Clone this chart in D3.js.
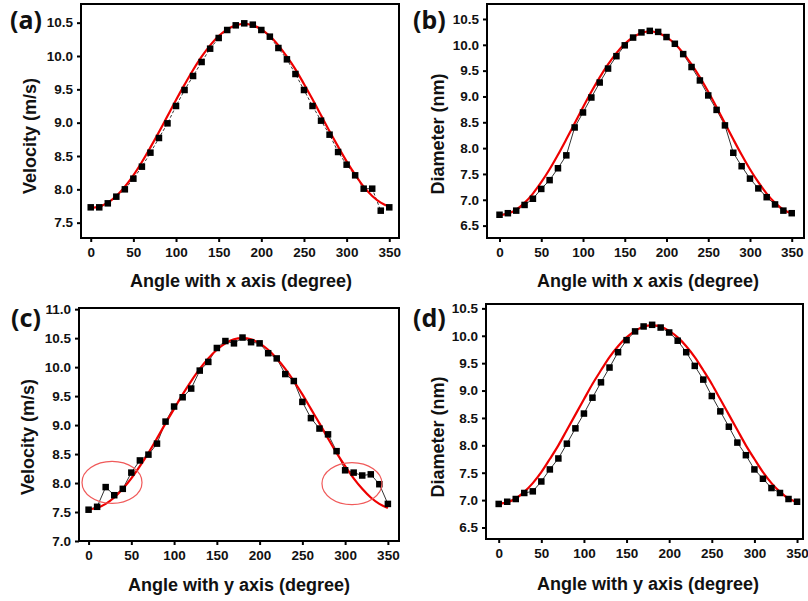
<!DOCTYPE html>
<html>
<head>
<meta charset="utf-8">
<script src="https://cdn.jsdelivr.net/npm/d3@7"></script>
<style>
  html, body { margin: 0; padding: 0; background: #fff; }
  svg { display: block; }
  text { font-family: "Liberation Sans", Arial, sans-serif; font-weight: bold; fill: #111; }
</style>
</head>
<body>
<svg id="chart" width="808" height="601"></svg>
<script>
// ---------------- DATA ----------------
const angles = [0,10,20,30,40,50,60,70,80,90,100,110,120,130,140,150,160,170,180,190,200,210,220,230,240,250,260,270,280,290,300,310,320,330,340,350];

const velocityX = [7.73,7.73,7.79,7.89,8.00,8.16,8.34,8.55,8.77,8.99,9.25,9.49,9.70,9.91,10.11,10.27,10.39,10.46,10.49,10.47,10.39,10.29,10.12,9.95,9.73,9.49,9.25,9.03,8.82,8.56,8.37,8.21,8.01,8.01,7.68,7.73];
const velocityXFit = [7.72,7.74,7.80,7.90,8.04,8.21,8.41,8.63,8.86,9.10,9.34,9.57,9.79,9.99,10.16,10.30,10.40,10.46,10.48,10.46,10.40,10.30,10.16,9.99,9.80,9.58,9.35,9.11,8.87,8.64,8.42,8.22,8.04,7.90,7.80,7.74];

const diameterX = [6.71,6.74,6.79,6.90,7.02,7.21,7.38,7.61,7.86,8.40,8.69,8.98,9.27,9.54,9.78,9.99,10.14,10.24,10.27,10.25,10.15,10.02,9.82,9.57,9.31,9.02,8.74,8.44,7.91,7.65,7.41,7.22,7.05,6.91,6.79,6.74];
const diameterXFit = [6.70,6.73,6.81,6.94,7.12,7.34,7.59,7.87,8.17,8.48,8.79,9.09,9.37,9.62,9.84,10.02,10.15,10.23,10.26,10.23,10.15,10.02,9.84,9.62,9.37,9.09,8.79,8.48,8.17,7.87,7.59,7.34,7.12,6.94,6.81,6.73];

const velocityY = [7.54,7.59,7.93,7.79,7.90,8.18,8.39,8.49,8.68,9.06,9.32,9.48,9.63,9.94,10.09,10.33,10.45,10.41,10.51,10.43,10.41,10.24,10.15,9.88,9.76,9.40,9.12,8.94,8.84,8.55,8.22,8.18,8.13,8.15,7.98,7.64];
const velocityYFit = [7.55,7.57,7.64,7.75,7.90,8.08,8.29,8.52,8.77,9.03,9.28,9.53,9.76,9.97,10.15,10.30,10.41,10.48,10.50,10.48,10.41,10.30,10.15,9.97,9.76,9.53,9.28,9.03,8.77,8.52,8.29,8.08,7.90,7.75,7.64,7.57];

const diameterY = [6.93,6.97,7.02,7.13,7.16,7.34,7.56,7.76,8.03,8.31,8.58,8.87,9.15,9.42,9.70,9.92,10.08,10.17,10.20,10.15,10.06,9.91,9.70,9.45,9.20,8.90,8.62,8.34,8.05,7.82,7.56,7.39,7.22,7.13,7.02,6.97];
const diameterYFit = [6.93,6.96,7.03,7.15,7.31,7.51,7.75,8.00,8.28,8.56,8.84,9.12,9.37,9.61,9.81,9.97,10.09,10.17,10.19,10.17,10.09,9.97,9.81,9.61,9.37,9.12,8.84,8.56,8.28,8.00,7.75,7.51,7.31,7.15,7.03,6.96];

const xTicks = [0,50,100,150,200,250,300,350];
const yTicksA = [7.5,8.0,8.5,9.0,9.5,10.0,10.5];
const yTicksB = [6.5,7.0,7.5,8.0,8.5,9.0,9.5,10.0,10.5];
const yTicksC = [7.0,7.5,8.0,8.5,9.0,9.5,10.0,10.5,11.0];
const yTicksD = [6.5,7.0,7.5,8.0,8.5,9.0,9.5,10.0,10.5];

const panelLabels = ["(a)","(b)","(c)","(d)"];
const yTitles = ["Velocity (m/s)","Diameter (nm)","Velocity (m/s)","Diameter (nm)"];
const xTitles = ["Angle with x axis (degree)","Angle with x axis (degree)","Angle with y axis (degree)","Angle with y axis (degree)"];

// highlighted regions in panel (c): [angle, value]
const highlightC = [[27.4, 8.01],[308, 7.99]];

// ---------------- LAYOUT ----------------
const panels = [
  { data: velocityX, fit: velocityXFit, yTicks: yTicksA, box: [81, 4, 399, 238], xd: [-11.4, 361.4], yd: [7.27, 10.78], dash: "3,2",
    label: [10, 29], ytitle: [36, 136], xtitle: [241, 287] },
  { data: diameterX, fit: diameterXFit, yTicks: yTicksB, box: [487, 4, 804, 238], xd: [-15, 364.7], yd: [6.26, 10.79], dash: null,
    label: [413, 29], ytitle: [444, 134], xtitle: [648, 287] },
  { data: velocityY, fit: velocityYFit, yTicks: yTicksC, box: [79, 308, 399, 541], xd: [-11.2, 363], yd: [7.0, 11.02], dash: null,
    label: [11, 327], ytitle: [34, 437], xtitle: [239, 591] },
  { data: diameterY, fit: diameterYFit, yTicks: yTicksD, box: [486, 304, 803, 539], xd: [-14.9, 357], yd: [6.29, 10.58], dash: null,
    label: [413, 327], ytitle: [444, 437], xtitle: [648, 590] }
];

const svg = d3.select("#chart");
const fmt = d3.format(".1f");

panels.forEach((p, i) => {
  const [x0, y0, x1, y1] = p.box;
  const x = d3.scaleLinear().domain(p.xd).range([x0, x1]);
  const y = d3.scaleLinear().domain(p.yd).range([y1, y0]);
  const g = svg.append("g");

  // axes
  const xa = g.append("g").attr("transform", `translate(0,${y1})`)
    .call(d3.axisBottom(x).tickValues(xTicks).tickSize(4).tickPadding(5).tickFormat(d3.format("d")));
  const ya = g.append("g").attr("transform", `translate(${x0},0)`)
    .call(d3.axisLeft(y).tickValues(p.yTicks).tickSize(4).tickPadding(4).tickFormat(fmt));
  [xa, ya].forEach(a => {
    a.select(".domain").remove();
    a.selectAll(".tick line").attr("stroke", "#000").attr("stroke-width", 2);
    a.selectAll(".tick text").style("font-size", "13.5px").style("font-weight", "bold").attr("fill", "#111");
  });

  // clip
  const cid = "clip" + i;
  svg.append("defs").append("clipPath").attr("id", cid)
    .append("rect").attr("x", x0).attr("y", y0).attr("width", x1 - x0).attr("height", y1 - y0);
  const plot = g.append("g").attr("clip-path", `url(#${cid})`);

  const pts = angles.map((a, k) => [a, p.data[k]]);
  const fitPts = angles.map((a, k) => [a, p.fit[k]]);

  // connecting line
  plot.append("path")
    .attr("d", d3.line().x(d => x(d[0])).y(d => y(d[1]))(pts))
    .attr("fill", "none").attr("stroke", "#333").attr("stroke-width", 1)
    .attr("stroke-dasharray", p.dash);

  // fit curve
  plot.append("path")
    .attr("d", d3.line().curve(d3.curveCatmullRom).x(d => x(d[0])).y(d => y(d[1]))(fitPts))
    .attr("fill", "none").attr("stroke", "#ee0000").attr("stroke-width", 2.2);

  // markers
  const s = 6.5;
  plot.selectAll("rect.pt").data(pts).enter().append("rect")
    .attr("x", d => x(d[0]) - s / 2).attr("y", d => y(d[1]) - s / 2)
    .attr("width", s).attr("height", s).attr("fill", "#000");

  // highlight ellipses for (c)
  if (i === 2) {
    plot.selectAll("ellipse").data(highlightC).enter().append("ellipse")
      .attr("cx", d => x(d[0])).attr("cy", d => y(d[1]))
      .attr("rx", 30).attr("ry", 21)
      .attr("fill", "none").attr("stroke", "#f05a5a").attr("stroke-width", 1.2);
  }

  // frame
  g.append("rect").attr("x", x0).attr("y", y0).attr("width", x1 - x0).attr("height", y1 - y0)
    .attr("fill", "none").attr("stroke", "#000").attr("stroke-width", 2);

  // titles
  g.append("text").attr("x", p.xtitle[0]).attr("y", p.xtitle[1])
    .attr("text-anchor", "middle").style("font-size", "18px").text(xTitles[i]);
  g.append("text").attr("transform", `translate(${p.ytitle[0]},${p.ytitle[1]}) rotate(-90)`)
    .attr("text-anchor", "middle").style("font-size", "18px").text(yTitles[i]);
  g.append("text").attr("x", p.label[0]).attr("y", p.label[1])
    .style("font-family", "'Noto Sans', 'Open Sans', sans-serif").style("font-size", "25px").style("font-weight", "bold")
    .text(panelLabels[i]);
});
</script>
</body>
</html>
